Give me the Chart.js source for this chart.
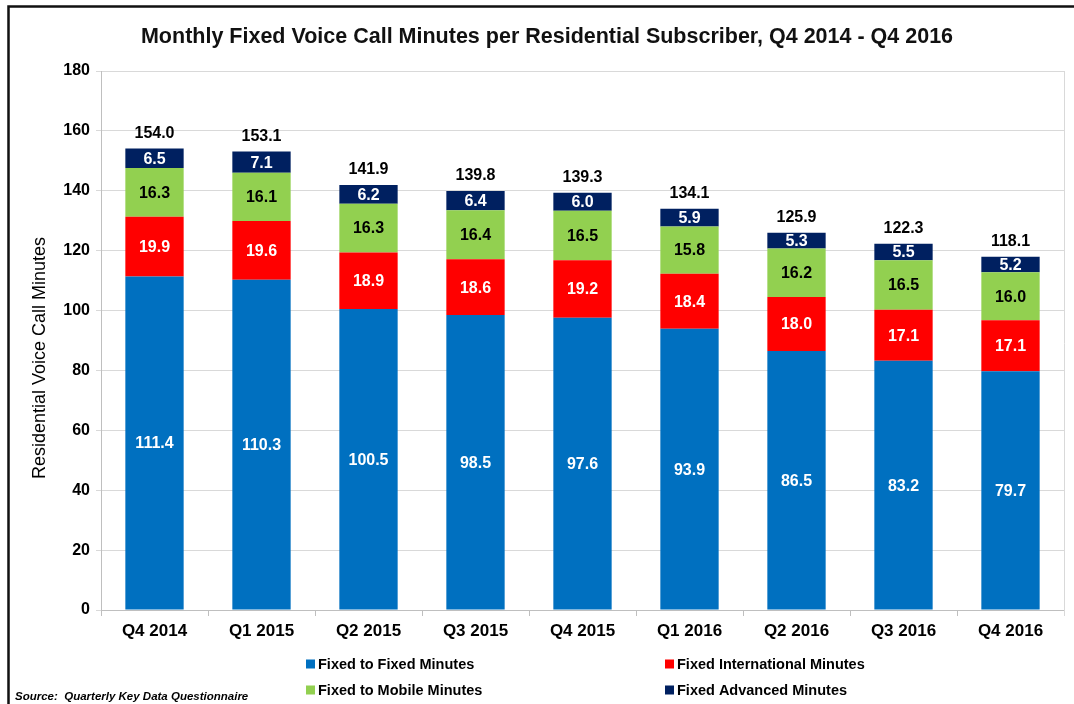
<!DOCTYPE html>
<html>
<head>
<meta charset="utf-8">
<script src="https://cdn.jsdelivr.net/npm/chart.js@4.4.0/dist/chart.umd.min.js"></script>
<style>
  html, body { margin: 0; padding: 0; background: #fff; }
</style>
</head>
<body>
<canvas id="chart" width="1074" height="704"></canvas>
<script>
const quarters = ['Q4 2014', 'Q1 2015', 'Q2 2015', 'Q3 2015', 'Q4 2015', 'Q1 2016', 'Q2 2016', 'Q3 2016', 'Q4 2016'];
const fixedToFixed   = [111.4, 110.3, 100.5, 98.5, 97.6, 93.9, 86.5, 83.2, 79.7];
const fixedIntl      = [19.9, 19.6, 18.9, 18.6, 19.2, 18.4, 18.0, 17.1, 17.1];
const fixedToMobile  = [16.3, 16.1, 16.3, 16.4, 16.5, 15.8, 16.2, 16.5, 16.0];
const fixedAdvanced  = [6.5, 7.1, 6.2, 6.4, 6.0, 5.9, 5.3, 5.5, 5.2];
const totals         = [154.0, 153.1, 141.9, 139.8, 139.3, 134.1, 125.9, 122.3, 118.1];
const seriesNames    = ['Fixed to Fixed Minutes', 'Fixed International Minutes', 'Fixed to Mobile Minutes', 'Fixed Advanced Minutes'];

const colors      = ['#0070C0', '#FF0000', '#92D050', '#002060'];
const labelColors = ['#fff', '#fff', '#000', '#fff'];
const FONT = '"Liberation Sans", Arial, sans-serif';

// value labels inside segments + totals on top
const valueLabels = {
  id: 'valueLabels',
  afterDatasetsDraw(chart) {
    const ctx = chart.ctx;
    ctx.save();
    ctx.textAlign = 'center';
    ctx.textBaseline = 'middle';
    ctx.font = 'bold 16px ' + FONT;
    chart.data.datasets.forEach((ds, i) => {
      const meta = chart.getDatasetMeta(i);
      meta.data.forEach((bar, j) => {
        ctx.fillStyle = labelColors[i];
        ctx.fillText(ds.data[j].toFixed(1), bar.x, (bar.y + bar.base) / 2 + 1);
      });
    });
    const last = chart.getDatasetMeta(chart.data.datasets.length - 1);
    ctx.fillStyle = '#000';
    last.data.forEach((bar, j) => {
      ctx.fillText(totals[j].toFixed(1), bar.x, bar.y - 15);
    });
    ctx.restore();
  }
};

// titles, right edge of plot, frame, legend, source
const decorations = {
  id: 'decorations',
  beforeDatasetsDraw(chart) {
    const { ctx, chartArea } = chart;
    ctx.save();
    ctx.strokeStyle = '#d9d9d9';
    ctx.lineWidth = 1;
    ctx.beginPath();
    ctx.moveTo(chartArea.right + 0.5, chartArea.top);
    ctx.lineTo(chartArea.right + 0.5, chartArea.bottom + 6);
    ctx.stroke();
    ctx.restore();
  },
  afterDraw(chart) {
    const ctx = chart.ctx;
    ctx.save();
    // frame
    ctx.strokeStyle = '#111';
    ctx.lineWidth = 2.5;
    ctx.beginPath();
    ctx.moveTo(8.5, 704);
    ctx.lineTo(8.5, 6.5);
    ctx.lineTo(1074, 6.5);
    ctx.stroke();

    // chart title
    ctx.fillStyle = '#111';
    ctx.textAlign = 'center';
    ctx.textBaseline = 'middle';
    ctx.font = 'bold 21.5px ' + FONT;
    ctx.fillText('Monthly Fixed Voice Call Minutes per Residential Subscriber, Q4 2014 - Q4 2016', 547, 37);

    // y axis title
    ctx.save();
    ctx.translate(40, 358);
    ctx.rotate(-Math.PI / 2);
    ctx.font = '18px ' + FONT;
    ctx.fillStyle = '#000';
    ctx.fillText('Residential Voice Call Minutes', 0, 0);
    ctx.restore();

    // legend in two columns
    const cols = [306, 665];
    const rows = [664, 690];
    ctx.font = 'bold 14.5px ' + FONT;
    ctx.textBaseline = 'middle';
    ctx.textAlign = 'left';
    chart.data.datasets.forEach((ds, i) => {
      const x = cols[i % 2];
      const y = rows[Math.floor(i / 2)];
      ctx.fillStyle = ds.backgroundColor;
      ctx.fillRect(x, y - 4.5, 9, 9);
      ctx.fillStyle = '#000';
      ctx.fillText(ds.label, x + 12, y + 1);
    });

    // source
    ctx.font = 'italic bold 11.5px ' + FONT;
    ctx.fillText('Source:  Quarterly Key Data Questionnaire', 15, 697);
    ctx.restore();
  }
};

const datasets = [fixedToFixed, fixedIntl, fixedToMobile, fixedAdvanced].map((d, i) => ({
  label: seriesNames[i],
  data: d,
  backgroundColor: colors[i],
  borderWidth: 0,
  barPercentage: 0.545,
  categoryPercentage: 1
}));

new Chart(document.getElementById('chart'), {
  type: 'bar',
  data: { labels: quarters, datasets: datasets },
  options: {
    responsive: false,
    devicePixelRatio: 1,
    animation: false,
    layout: { padding: { left: 0, right: 10, top: 71, bottom: 0 } },
    plugins: {
      legend: { display: false },
      tooltip: { enabled: false },
      title: { display: false }
    },
    scales: {
      x: {
        stacked: true,
        offset: true,
        grid: { offset: true, drawOnChartArea: false, drawTicks: true, tickLength: 6, color: '#bfbfbf' },
        border: { color: '#bfbfbf' },
        ticks: { color: '#000', font: { family: FONT, size: 17, weight: 'bold' }, padding: 5 },
        afterFit: (scale) => { scale.height = 94; }
      },
      y: {
        stacked: true,
        min: 0,
        max: 180,
        ticks: { stepSize: 20, color: '#000', font: { family: FONT, size: 16, weight: 'bold' }, padding: 6 },
        grid: { color: '#d9d9d9', tickLength: 5 },
        border: { color: '#bfbfbf' },
        title: { display: false },
        afterFit: (scale) => { scale.width = 101; }
      }
    }
  },
  plugins: [valueLabels, decorations]
});
</script>
</body>
</html>
